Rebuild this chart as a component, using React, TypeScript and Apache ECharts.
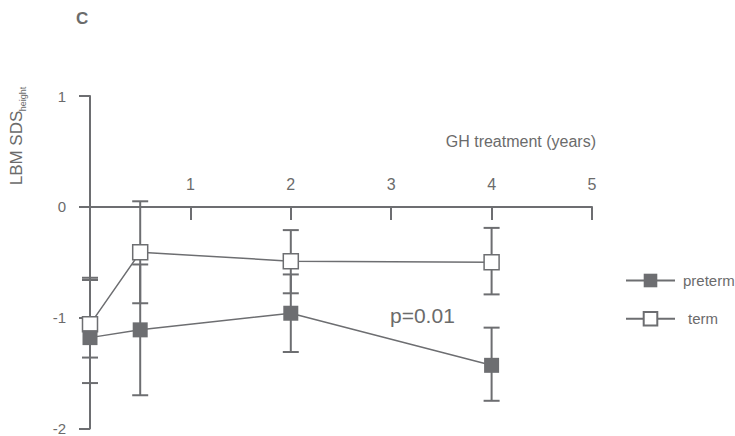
import React, { useEffect, useRef } from "react";
import * as echarts from "echarts";

// GH treatment time points (years)
const years = [0, 0.5, 2, 4];

// LBM SDS (height) — preterm group: mean with lower / upper error limits
const pretermMean = [-1.18, -1.11, -0.96, -1.43];
const pretermLow = [-1.59, -1.7, -1.31, -1.75];
const pretermHigh = [-0.66, -0.52, -0.61, -1.09];

// term group
const termMean = [-1.06, -0.41, -0.49, -0.5];
const termLow = [-1.36, -0.87, -0.78, -0.79];
const termHigh = [-0.64, 0.05, -0.21, -0.19];

const xTicks = [1, 2, 3, 4, 5];
const yTicks = [-2, -1, 0, 1];

const GREY = "#6d6e71";
const TEXT = "#6b6b6b";
const FONT = "Liberation Sans, Arial, sans-serif";

const Y_MIN = -2;
const Y_MAX = 1;
const GRID_TOP = 96;
const GRID_BOTTOM = 7;
const CHART_H = 436;
// pixel row of y = 0 inside the plotting area
const ZERO_Y =
  GRID_TOP + ((Y_MAX - 0) / (Y_MAX - Y_MIN)) * (CHART_H - GRID_TOP - GRID_BOTTOM);

function errorSeries(name: string, low: number[], high: number[]) {
  const data = years.map((x, i) => [x, low[i], high[i]]);
  return {
    type: "custom",
    name: name + "-err",
    z: 1,
    silent: true,
    data,
    renderItem: (_params: any, api: any) => {
      const x = api.value(0);
      const lo = api.coord([x, api.value(1)]);
      const hi = api.coord([x, api.value(2)]);
      const half = 8;
      const style = { stroke: GREY, lineWidth: 2 };
      return {
        type: "group",
        children: [
          { type: "line", shape: { x1: lo[0], y1: lo[1], x2: hi[0], y2: hi[1] }, style },
          { type: "line", shape: { x1: lo[0] - half, y1: lo[1], x2: lo[0] + half, y2: lo[1] }, style },
          { type: "line", shape: { x1: hi[0] - half, y1: hi[1], x2: hi[0] + half, y2: hi[1] }, style },
        ],
      };
    },
  };
}

export default function App() {
  const ref = useRef<HTMLDivElement>(null);

  useEffect(() => {
    if (!ref.current) return;
    const chart = echarts.init(ref.current, null, { renderer: "svg" });
    chart.setOption({
      animation: false,
      backgroundColor: "#ffffff",
      textStyle: { fontFamily: FONT },
      grid: [
        // plotting area
        { left: 90, right: 143, top: GRID_TOP, bottom: GRID_BOTTOM, containLabel: false },
        // upper half, whose bottom edge carries the time axis at y = 0
        { left: 90, right: 143, top: GRID_TOP, height: ZERO_Y - GRID_TOP, containLabel: false },
      ],
      xAxis: [
        {
          gridIndex: 0,
          type: "value",
          min: 0,
          max: 5,
          interval: 1,
          show: false,
        },
        {
          gridIndex: 1,
          type: "value",
          min: 0,
          max: 5,
          interval: 1,
          position: "bottom",
          axisLine: { show: true, onZero: false, lineStyle: { color: GREY, width: 2 } },
          axisTick: {
            show: true,
            inside: false,
            length: 13,
            lineStyle: { color: GREY, width: 2 },
          },
          axisLabel: {
            inside: true,
            margin: 15,
            fontSize: 16,
            color: TEXT,
            fontFamily: FONT,
            formatter: (v: number) => (xTicks.includes(v) ? String(v) : ""),
          },
          splitLine: { show: false },
        },
      ],
      yAxis: [
        {
          gridIndex: 0,
          type: "value",
          min: Y_MIN,
          max: Y_MAX,
          interval: 1,
          axisLine: { show: true, onZero: false, lineStyle: { color: GREY, width: 2 } },
          axisTick: { show: true, inside: false, length: 11, lineStyle: { color: GREY, width: 2 } },
          axisLabel: {
            margin: 24,
            fontSize: 15,
            color: TEXT,
            fontFamily: FONT,
            formatter: (v: number) => (yTicks.includes(v) ? String(v) : ""),
          },
          splitLine: { show: false },
        },
        {
          gridIndex: 1,
          type: "value",
          min: 0,
          max: 1,
          show: false,
        },
      ],
      legend: {
        orient: "vertical",
        left: 620,
        top: 268,
        itemWidth: 49,
        itemHeight: 17,
        itemGap: 23,
        textStyle: { fontSize: 15, color: TEXT, fontFamily: FONT, padding: [0, 0, 0, 3] },
        data: [
          { name: "preterm" },
          { name: "term", textStyle: { padding: [0, 0, 0, 8] } },
        ],
      },
      graphic: [
        {
          type: "text",
          left: 76,
          top: 10,
          style: { text: "C", fontSize: 17, fontWeight: "bold", fill: TEXT, fontFamily: FONT },
        },
        {
          type: "text",
          x: 596,
          y: 141,
          style: {
            text: "GH treatment (years)",
            fontSize: 16,
            fill: TEXT,
            fontFamily: FONT,
            align: "right",
            verticalAlign: "middle",
          },
        },
        {
          type: "text",
          x: 16,
          y: 148,
          rotation: Math.PI / 2,
          style: {
            text: "LBM SDS",
            fontSize: 17,
            fill: TEXT,
            fontFamily: FONT,
            align: "center",
            verticalAlign: "middle",
          },
        },
        {
          type: "text",
          x: 23,
          y: 99,
          rotation: Math.PI / 2,
          style: {
            text: "height",
            fontSize: 9,
            fill: TEXT,
            fontFamily: FONT,
            align: "center",
            verticalAlign: "middle",
          },
        },
        {
          type: "text",
          x: 390,
          y: 315,
          style: {
            text: "p=0.01",
            fontSize: 21,
            fill: TEXT,
            fontFamily: FONT,
            align: "left",
            verticalAlign: "middle",
          },
        },
      ],
      series: [
        errorSeries("term", termLow, termHigh),
        errorSeries("preterm", pretermLow, pretermHigh),
        {
          type: "line",
          name: "term",
          z: 3,
          data: years.map((x, i) => [x, termMean[i]]),
          symbol: "rect",
          symbolSize: 15,
          lineStyle: { color: GREY, width: 1.5 },
          itemStyle: { color: "#ffffff", borderColor: GREY, borderWidth: 1.5 },
        },
        {
          type: "line",
          name: "preterm",
          z: 4,
          data: years.map((x, i) => [x, pretermMean[i]]),
          symbol: "rect",
          symbolSize: 15,
          lineStyle: { color: GREY, width: 1.5 },
          itemStyle: { color: GREY, borderColor: GREY, borderWidth: 0 },
        },
      ],
    });
    return () => chart.dispose();
  }, []);

  return (
    <div
      ref={ref}
      style={{ position: "fixed", left: 0, top: 0, width: 735, height: 436 }}
    />
  );
}
